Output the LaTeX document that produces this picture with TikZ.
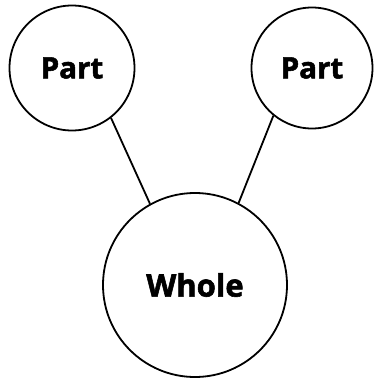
\documentclass[tikz,border=0pt]{standalone}
\usepackage{fontspec}
\setmainfont{Open Sans}
\newfontfamily\heavyfont[FakeBold=1.8]{Open Sans Bold}
\begin{document}
\begin{tikzpicture}[x=1pt,y=-1pt,
  bubble/.style={circle,draw=black,line width=1.8pt,inner sep=0pt},
  link/.style={line width=1.8pt}]
\useasboundingbox (0,0) rectangle (377,381);
\node[bubble,minimum size=125pt,font=\heavyfont\fontsize{29.5}{32}\selectfont] (p1) at (72,68) {Part};
\node[bubble,minimum size=121pt,font=\heavyfont\fontsize{29.5}{32}\selectfont] (p2) at (312,68) {Part};
\node[bubble,minimum size=184pt,font=\heavyfont\fontsize{31}{34}\selectfont] (w) at (195,285) {Whole};
\draw[link] (p1.-52) -- (w.119);
\draw[link] (p2.231) -- (w.62);
\end{tikzpicture}
\end{document}
